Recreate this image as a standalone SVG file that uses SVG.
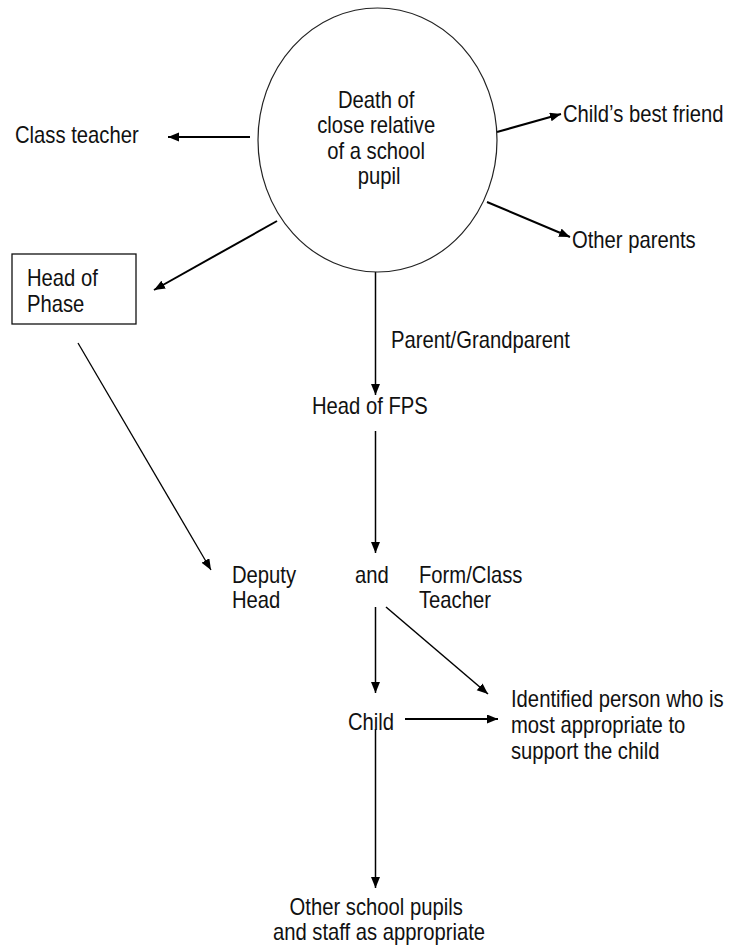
<svg xmlns="http://www.w3.org/2000/svg" width="733" height="949" viewBox="0 0 733 949">
  <style>
    .lbl { font-family: "Liberation Sans", Arial, sans-serif; font-size: 23px; fill: #111; }
    .mid { text-anchor: middle; }
    .edge { stroke: #000; fill: none; stroke-width: 1.5; }
    .thick { stroke-width: 2; }
    .thin { stroke-width: 1.3; }
    .shape { fill: #fff; stroke: #222; stroke-width: 1.2; }
  </style>
  <defs>
    <marker id="arrow" markerUnits="userSpaceOnUse" markerWidth="12" markerHeight="10" refX="11" refY="4.5" orient="auto">
      <path d="M0,0 L11,4.5 L0,9 z" fill="#000"/>
    </marker>
  </defs>
  <rect width="733" height="949" fill="#fff"/>

  <!-- connectors -->
  <g id="connectors">
    <line class="edge thick" x1="250" y1="137" x2="168" y2="137" marker-end="url(#arrow)"/>
    <line class="edge thick" x1="497" y1="132" x2="561" y2="114" marker-end="url(#arrow)"/>
    <line class="edge thick" x1="487" y1="202" x2="570" y2="237" marker-end="url(#arrow)"/>
    <line class="edge thick" x1="277" y1="221" x2="154" y2="290" marker-end="url(#arrow)"/>
    <line class="edge" x1="375.5" y1="272" x2="375.5" y2="395" marker-end="url(#arrow)"/>
    <line class="edge" x1="375.5" y1="431" x2="375.5" y2="553" marker-end="url(#arrow)"/>
    <line class="edge thin" x1="78" y1="343" x2="211" y2="570" marker-end="url(#arrow)"/>
    <line class="edge" x1="375.5" y1="607" x2="375.5" y2="693" marker-end="url(#arrow)"/>
    <line class="edge" x1="386" y1="607" x2="488" y2="694" marker-end="url(#arrow)"/>
    <line class="edge thick" x1="405" y1="719" x2="498" y2="719" marker-end="url(#arrow)"/>
    <line class="edge" x1="375.5" y1="729" x2="375.5" y2="888" marker-end="url(#arrow)"/>
  </g>

  <!-- central event -->
  <g id="event">
    <ellipse class="shape" cx="377.5" cy="140" rx="119.5" ry="132"/>
    <text class="lbl mid" transform="translate(379 108) scale(0.88 1)">
      <tspan x="0" y="0">Death of</tspan>
      <tspan x="0" y="25.5">close relative</tspan>
      <tspan x="0" y="51">of a school</tspan>
      <tspan x="0" y="76.5">pupil</tspan>
    </text>
  </g>

  <g id="class-teacher">
    <text class="lbl" transform="translate(15 143) scale(0.88 1)">Class teacher</text>
  </g>

  <g id="best-friend">
    <text class="lbl" transform="translate(563 122) scale(0.88 1)">Child’s best friend</text>
  </g>

  <g id="other-parents">
    <text class="lbl" transform="translate(572 248) scale(0.88 1)">Other parents</text>
  </g>

  <g id="head-of-phase">
    <rect x="12" y="254" width="124" height="70" fill="#fff" stroke="#111" stroke-width="1.3"/>
    <text class="lbl" transform="translate(27 286) scale(0.88 1)">
      <tspan x="0" y="0">Head of</tspan>
      <tspan x="0" y="26">Phase</tspan>
    </text>
  </g>

  <g id="parent-label">
    <text class="lbl" transform="translate(391 348) scale(0.88 1)">Parent/Grandparent</text>
  </g>

  <g id="head-of-fps">
    <text class="lbl" transform="translate(312 414) scale(0.88 1)">Head of FPS</text>
  </g>

  <g id="deputy-head">
    <text class="lbl" transform="translate(232 583) scale(0.88 1)">
      <tspan x="0" y="0">Deputy</tspan>
      <tspan x="0" y="25">Head</tspan>
    </text>
  </g>

  <g id="and">
    <text class="lbl" transform="translate(355 583) scale(0.88 1)">and</text>
  </g>

  <g id="form-teacher">
    <text class="lbl" transform="translate(419 583) scale(0.88 1)">
      <tspan x="0" y="0">Form/Class</tspan>
      <tspan x="0" y="25">Teacher</tspan>
    </text>
  </g>

  <g id="child">
    <text class="lbl" transform="translate(348 730) scale(0.88 1)">Child</text>
  </g>

  <g id="identified-person">
    <text class="lbl" transform="translate(511 707) scale(0.88 1)">
      <tspan x="0" y="0">Identified person who is</tspan>
      <tspan x="0" y="26">most appropriate to</tspan>
      <tspan x="0" y="52">support the child</tspan>
    </text>
  </g>

  <g id="pupils-staff">
    <text class="lbl mid" transform="translate(379 915) scale(0.88 1)">
      <tspan x="0" y="0">Other school pupils</tspan>
      <tspan x="0" y="25">and staff as appropriate</tspan>
    </text>
  </g>
</svg>
